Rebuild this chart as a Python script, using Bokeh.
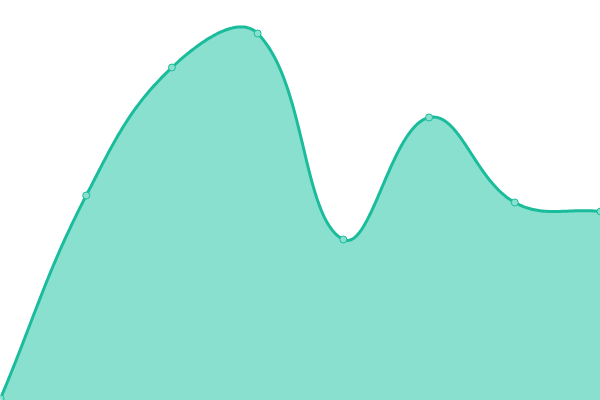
import numpy as np
from bokeh.plotting import figure
from bokeh.models import Range1d
from bokeh.embed import file_html
from bokeh.resources import INLINE

# Data
categories = ["1", "2", "3", "4", "5", "6", "7", "8"]
values = [2, 205, 333, 367, 161, 283, 198, 189]

LINE = "#1ABC9C"
FILL = "#8AE0CF"

W, H = 600, 400
n = len(values)

p = figure(width=W, height=H, output_backend="svg", toolbar_location=None,
           x_range=Range1d(0, n - 1), y_range=Range1d(0, 400),
           min_border=0, min_border_left=0, min_border_right=0,
           min_border_top=0, min_border_bottom=0)
p.axis.visible = False
p.grid.visible = False
p.outline_line_color = None
p.background_fill_color = "white"
p.border_fill_color = "white"

# Rendering of a smooth (tension 0.4) curve through the data, computed in screen space
px = np.arange(n) * W / (n - 1)
py = np.array(values, dtype=float) * H / 400.0
t = 0.4
c_prev = []
c_next = []
for i in range(n):
    pp = (px[max(i - 1, 0)], py[max(i - 1, 0)])
    cu = (px[i], py[i])
    nx = (px[min(i + 1, n - 1)], py[min(i + 1, n - 1)])
    d01 = np.hypot(cu[0] - pp[0], cu[1] - pp[1])
    d12 = np.hypot(nx[0] - cu[0], nx[1] - cu[1])
    s = d01 + d12
    s01 = d01 / s if s else 0
    s12 = d12 / s if s else 0
    fa, fb = t * s01, t * s12
    cpx = cu[0] - fa * (nx[0] - pp[0]); cpy = cu[1] - fa * (nx[1] - pp[1])
    cnx = cu[0] + fb * (nx[0] - pp[0]); cny = cu[1] + fb * (nx[1] - pp[1])
    cpx = min(max(cpx, 0), W); cnx = min(max(cnx, 0), W)
    cpy = min(max(cpy, 0), H); cny = min(max(cny, 0), H)
    c_prev.append((cpx, cpy)); c_next.append((cnx, cny))

xs, ys = [], []
tt = np.linspace(0, 1, 60)
for i in range(n - 1):
    p0 = np.array([px[i], py[i]]); p1 = np.array(c_next[i])
    p2 = np.array(c_prev[i + 1]); p3 = np.array([px[i + 1], py[i + 1]])
    for k, u in enumerate(tt):
        if i > 0 and k == 0:
            continue
        b = ((1 - u) ** 3) * p0 + 3 * ((1 - u) ** 2) * u * p1 + 3 * (1 - u) * u * u * p2 + (u ** 3) * p3
        xs.append(b[0] * (n - 1) / W)
        ys.append(b[1] * 400.0 / H)

p.varea(x=xs, y1=0, y2=ys, fill_color=FILL, fill_alpha=1.0)
p.line(xs, ys, line_color=LINE, line_width=3, line_join="round")
p.scatter(x=list(range(n)), y=values, size=7, fill_color=FILL,
          line_color=LINE, line_width=1)

open("out.html", "w").write(file_html(p, INLINE))
